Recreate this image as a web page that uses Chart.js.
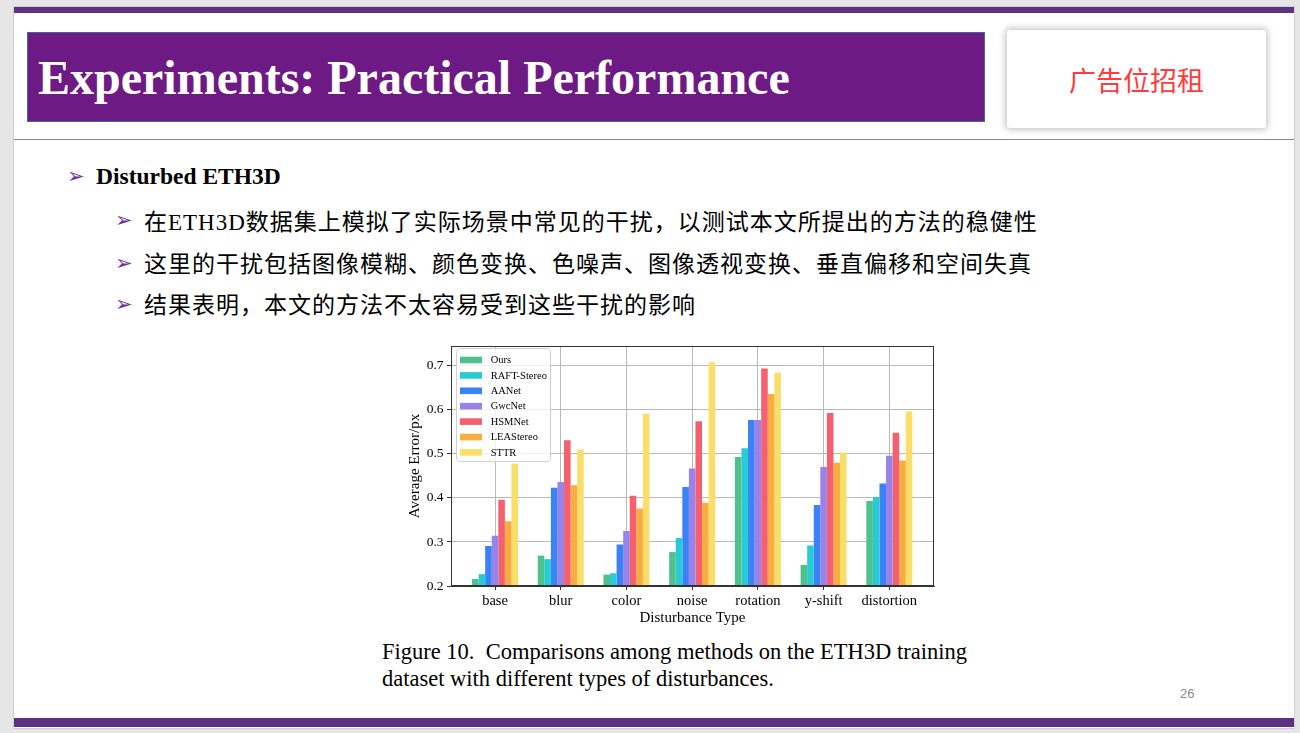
<!DOCTYPE html>
<html>
<head>
<meta charset="utf-8">
<title>Experiments: Practical Performance</title>
<script src="https://cdn.jsdelivr.net/npm/chart.js@4.4.1/dist/chart.umd.min.js"></script>
<style>
  html, body { margin: 0; padding: 0; }
  body { width: 1300px; height: 733px; background: #e6e6e6; position: relative; overflow: hidden; }
  .slide { position: absolute; left: 13px; top: 6px; width: 1280px; height: 721px; background: #fff; border: 1px solid #cfcfcf; }
  .bar { position: absolute; left: 14px; width: 1280px; background: #5e3282; }
  .titlebox { position: absolute; left: 27px; top: 32px; width: 956px; height: 88px; background: #6d1a84; border: 1px solid #3e6b98; }
  .title { position: absolute; left: 38px; top: 54px; font: bold 48px/48px "Liberation Serif", serif; color: #fff; white-space: nowrap; }
  .adbox { position: absolute; left: 1007px; top: 30px; width: 259px; height: 98px; background: #fff; border-radius: 3px;
           box-shadow: 0 0 6px 2px rgba(0,0,0,0.22); display: flex; align-items: center; justify-content: center;
           font: 27px "Noto Sans CJK SC", sans-serif; color: #ff3b3b; }
  .sep { position: absolute; left: 14px; top: 139px; width: 1280px; height: 0; border-top: 1.5px solid #8a8a8a; }
  .arrow { position: absolute; font: 21px/21px "DejaVu Sans", sans-serif; color: #7030a0; }
  .head { position: absolute; left: 96px; top: 165px; font: bold 23.5px/23.5px "Liberation Serif", serif; color: #000; white-space: nowrap; }
  .line { position: absolute; left: 144px; font: 23px/23px "Liberation Serif", "Noto Sans CJK SC", serif; letter-spacing: 1px; color: #000; white-space: nowrap; }
  .caption { position: absolute; left: 382px; top: 638px; font: 22.5px/27px "Liberation Serif", serif; color: #000; white-space: pre; }
  .pageno { position: absolute; left: 1180px; top: 686px; font: 13px "Liberation Sans", sans-serif; color: #8a8a8a; }
  #chartBox { position: absolute; left: 380px; top: 340px; width: 560px; height: 290px; }
</style>
</head>
<body>
<div class="slide"></div>
<div class="bar" style="top:7px;height:6px;"></div>
<div class="bar" style="top:718px;height:9px;"></div>
<div class="titlebox"></div>
<div class="title">Experiments: Practical Performance</div>
<div class="adbox">广告位招租</div>
<div class="sep"></div>

<div class="arrow" style="left:67px;top:166px;">➢</div>
<div class="head">Disturbed ETH3D</div>
<div class="arrow" style="left:115px;top:210px;">➢</div>
<div class="line" style="top:211px;">在ETH3D数据集上模拟了实际场景中常见的干扰，以测试本文所提出的方法的稳健性</div>
<div class="arrow" style="left:115px;top:253px;">➢</div>
<div class="line" style="top:253px;">这里的干扰包括图像模糊、颜色变换、色噪声、图像透视变换、垂直偏移和空间失真</div>
<div class="arrow" style="left:115px;top:294px;">➢</div>
<div class="line" style="top:294px;">结果表明，本文的方法不太容易受到这些干扰的影响</div>

<div id="chartBox"><canvas id="errChart" width="560" height="290"></canvas></div>

<div class="caption">Figure 10.  Comparisons among methods on the ETH3D training
dataset with different types of disturbances.</div>
<div class="pageno">26</div>

<script>
// disturbance types on the x axis
const categories = ['base', 'blur', 'color', 'noise', 'rotation', 'y-shift', 'distortion'];
const methods = ['Ours', 'RAFT-Stereo', 'AANet', 'GwcNet', 'HSMNet', 'LEAStereo', 'STTR'];

// average error (px) per disturbance
const ours       = [0.216, 0.269, 0.226, 0.277, 0.493, 0.248, 0.393];
const raftStereo = [0.227, 0.261, 0.229, 0.309, 0.513, 0.292, 0.402];
const aanet      = [0.291, 0.423, 0.294, 0.425, 0.577, 0.384, 0.433];
const gwcnet     = [0.314, 0.436, 0.325, 0.467, 0.577, 0.470, 0.496];
const hsmnet     = [0.396, 0.531, 0.405, 0.574, 0.694, 0.593, 0.548];
const leaStereo  = [0.347, 0.429, 0.376, 0.389, 0.636, 0.480, 0.485];
const sttr       = [0.478, 0.510, 0.591, 0.708, 0.684, 0.503, 0.596];

const yMin = 0.2;
const yMax = 0.745;
const yStep = 0.1;

const series = [ours, raftStereo, aanet, gwcnet, hsmnet, leaStereo, sttr];
const colors = ['#4fc18d', '#28cad6', '#3a82f6', '#9b82e8', '#f4606e', '#f8ad40', '#fbde6a'];

const serif = 'Liberation Serif';

// frame around the plot + legend box drawn inside the axes (upper left)
const framePlugin = {
    id: 'frameAndLegend',
    afterDraw(chart) {
        const ctx = chart.ctx;
        const a = chart.chartArea;
        ctx.save();
        ctx.strokeStyle = '#333';
        ctx.lineWidth = 1;
        ctx.strokeRect(Math.round(a.left) + 0.5, Math.round(a.top) + 0.5,
                       Math.round(a.right - a.left) - 1, Math.round(a.bottom - a.top) - 1);

        const bx = a.left + 5.5, by = a.top + 2.5, bw = 94, bh = 113;
        ctx.beginPath();
        ctx.roundRect(bx, by, bw, bh, 3);
        ctx.fillStyle = 'rgba(255,255,255,0.8)';
        ctx.fill();
        ctx.strokeStyle = '#d0d0d0';
        ctx.stroke();

        ctx.font = '10.5px "' + serif + '"';
        ctx.textBaseline = 'middle';
        chart.data.datasets.forEach((ds, i) => {
            const rowY = a.top + 14 + i * 15.4;
            ctx.fillStyle = ds.backgroundColor;
            ctx.fillRect(a.left + 9, rowY - 3.3, 22, 6.6);
            ctx.fillStyle = '#000';
            ctx.fillText(ds.label, a.left + 39.7, rowY + 0.5);
        });
        ctx.restore();
    }
};

const ctx = document.getElementById('errChart').getContext('2d');
new Chart(ctx, {
    type: 'bar',
    data: {
        datasets: methods.map((name, k) => ({
            label: name,
            data: series[k].map((v, i) => ({ x: i, y: v })),
            backgroundColor: colors[k],
            borderWidth: 0,
            categoryPercentage: 0.7,
            barPercentage: 1.0
        }))
    },
    options: {
        responsive: false,
        animation: false,
        layout: { padding: { top: 6, right: 6, left: 0, bottom: 0 } },
        plugins: {
            legend: { display: false },
            tooltip: { enabled: false }
        },
        scales: {
            x: {
                type: 'linear',
                min: -0.67,
                max: 6.68,
                offset: false,
                z: 1,
                ticks: {
                    stepSize: 1,
                    includeBounds: false,
                    autoSkip: false,
                    maxRotation: 0,
                    padding: 2,
                    color: '#000',
                    font: { family: serif, size: 14.5 },
                    callback: v => categories[v] ?? ''
                },
                grid: { offset: false, color: '#b8b8b8', lineWidth: 1, tickLength: 4, tickColor: '#333' },
                border: { color: '#333', width: 1 },
                title: {
                    display: true,
                    text: 'Disturbance Type',
                    color: '#000',
                    font: { family: serif, size: 15 },
                    padding: { top: 0, bottom: 3 }
                },
                afterFit: s => { s.height = 44; s.paddingLeft = 0; s.paddingRight = 0; }
            },
            y: {
                min: yMin,
                max: yMax,
                z: 1,
                ticks: {
                    stepSize: yStep,
                    includeBounds: false,
                    padding: 3.5,
                    color: '#000',
                    font: { family: serif, size: 13.5 },
                    callback: v => v.toFixed(1)
                },
                grid: { color: '#b8b8b8', lineWidth: 1, tickLength: 4, tickColor: '#333' },
                border: { color: '#333', width: 1 },
                title: {
                    display: true,
                    text: 'Average Error/px',
                    color: '#000',
                    font: { family: serif, size: 15 },
                    padding: { top: 26, bottom: 0 }
                },
                afterFit: s => { s.width = 71; s.paddingTop = 0; s.paddingBottom = 0; }
            }
        }
    },
    plugins: [framePlugin]
});
</script>
</body>
</html>
